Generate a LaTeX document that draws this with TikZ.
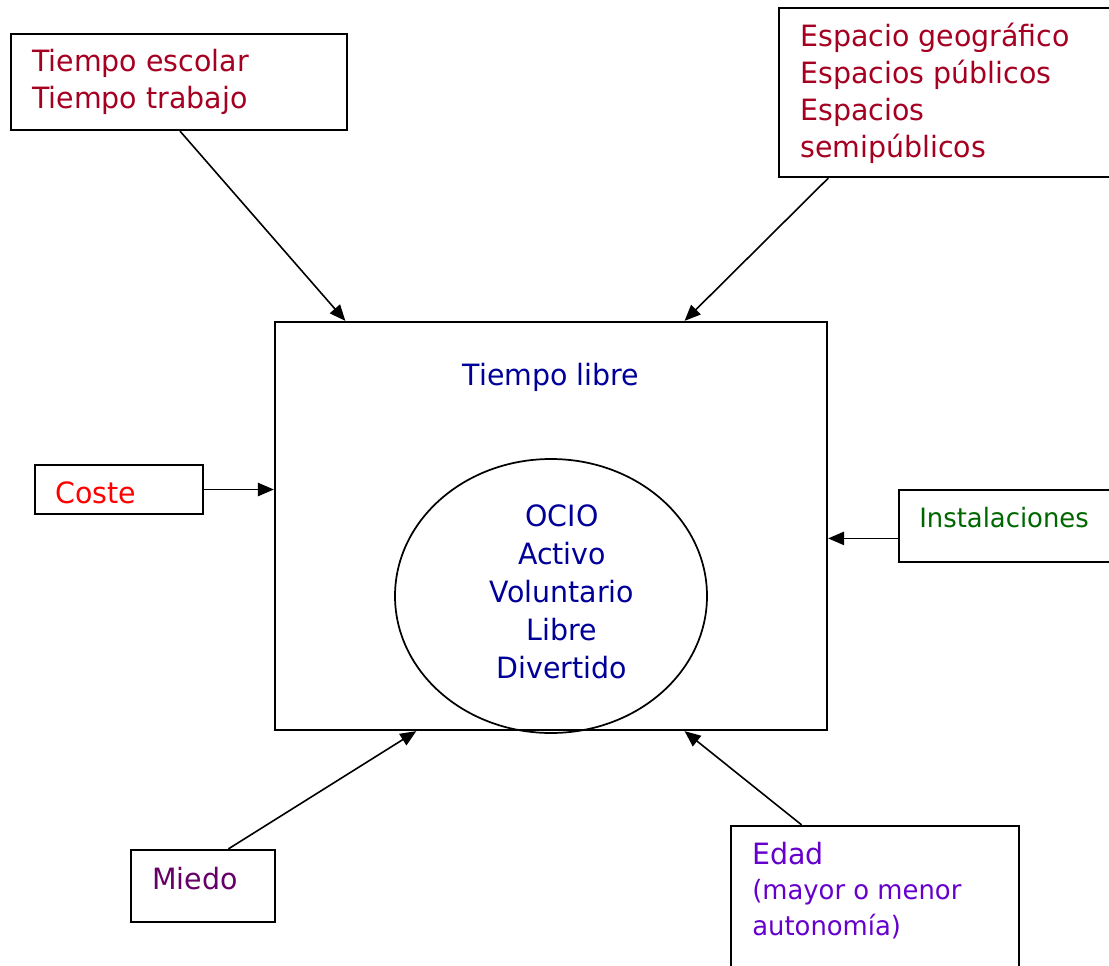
\documentclass[tikz,border=0pt]{standalone}
\usepackage{fontspec}
\setmainfont{DejaVu Sans}[FakeStretch=0.97]
\usetikzlibrary{arrows.meta,calc,shapes.geometric}

\definecolor{granate}{HTML}{A50021}
\definecolor{azulosc}{HTML}{000099}
\definecolor{verdeosc}{HTML}{006600}
\definecolor{morado}{HTML}{660066}
\definecolor{violeta}{HTML}{6600CC}

\begin{document}
\begin{tikzpicture}[x=0.75pt,y=-0.75pt,
  caja/.style={draw,line width=1.7pt,inner sep=0pt},
  flecha/.style={-{Triangle[length=12pt,width=10pt]},line width=1.2pt},
  texto/.style={anchor=north west,inner sep=0pt,align=left,font=\fontsize{22}{27.75}\selectfont}]
\useasboundingbox (0,0) rectangle (1109,966);

% cajas
\node[caja,minimum width=252pt,minimum height=72pt] (tiempos) at (179,82) {};
\node[caja,minimum width=252pt,minimum height=126.75pt] (espacios) at (947,92.5) {};
\node[caja,minimum width=414pt,minimum height=306pt] (libre) at (551,526) {};
\node[draw,ellipse,line width=1.3pt,inner sep=0pt,minimum width=234pt,minimum height=205.5pt] (ocio) at (551,596) {};
\node[caja,minimum width=126pt,minimum height=36.75pt] (coste) at (119,489.5) {};
\node[caja,minimum width=162pt,minimum height=54pt] (instal) at (1007,526) {};
\node[caja,minimum width=108pt,minimum height=54pt] (miedo) at (203,886) {};
\node[caja,minimum width=216pt,minimum height=115.5pt] (edad) at (875,903) {};

% textos
\node[texto,text=granate] (tiemposTxt) at (32,49) {Tiempo escolar\\Tiempo trabajo};
\node[texto,text=granate] (espaciosTxt) at (800,23) {Espacio geográfico\\Espacios públicos\\Espacios\\semipúblicos};
\node[texto,anchor=north,text=azulosc] (libreTxt) at (551,363) {Tiempo libre};
\node[texto,anchor=north,align=center,text=azulosc,font=\fontsize{22}{28.5}\selectfont] (ocioTxt) at (562,504) {OCIO\\Activo\\Voluntario\\Libre\\Divertido};
\node[texto,text=red] (costeTxt) at (55,481) {Coste};
\node[texto,text=verdeosc,font=\fontsize{20}{26}\selectfont] (instalTxt) at (919,507) {Instalaciones};
\node[texto,text=morado] (miedoTxt) at (152,867) {Miedo};
\node[texto,text=violeta,font=\fontsize{20}{26.5}\selectfont] (edadTxt) at (752,842) {{\fontsize{22}{27}\selectfont Edad}\\(mayor o menor\\autonomía)};

% flechas
\draw[flecha] ($(tiempos.south west)!0.503!(tiempos.south east)$) -- ($(libre.north west)!0.129!(libre.north east)$);
\draw[flecha] ($(espacios.south west)!0.149!(espacios.south east)$) -- ($(libre.north west)!0.741!(libre.north east)$);
\draw[flecha] (coste.east) -- (coste.east -| libre.west);
\draw[flecha] ($(instal.north west)!0.667!(instal.south west)$) coordinate (i) -- (i -| libre.east);
\draw[flecha] ($(miedo.north west)!0.674!(miedo.north east)$) -- ($(libre.south west)!0.257!(libre.south east)$);
\draw[flecha] ($(edad.north west)!0.247!(edad.north east)$) -- ($(libre.south west)!0.741!(libre.south east)$);
\end{tikzpicture}
\end{document}
